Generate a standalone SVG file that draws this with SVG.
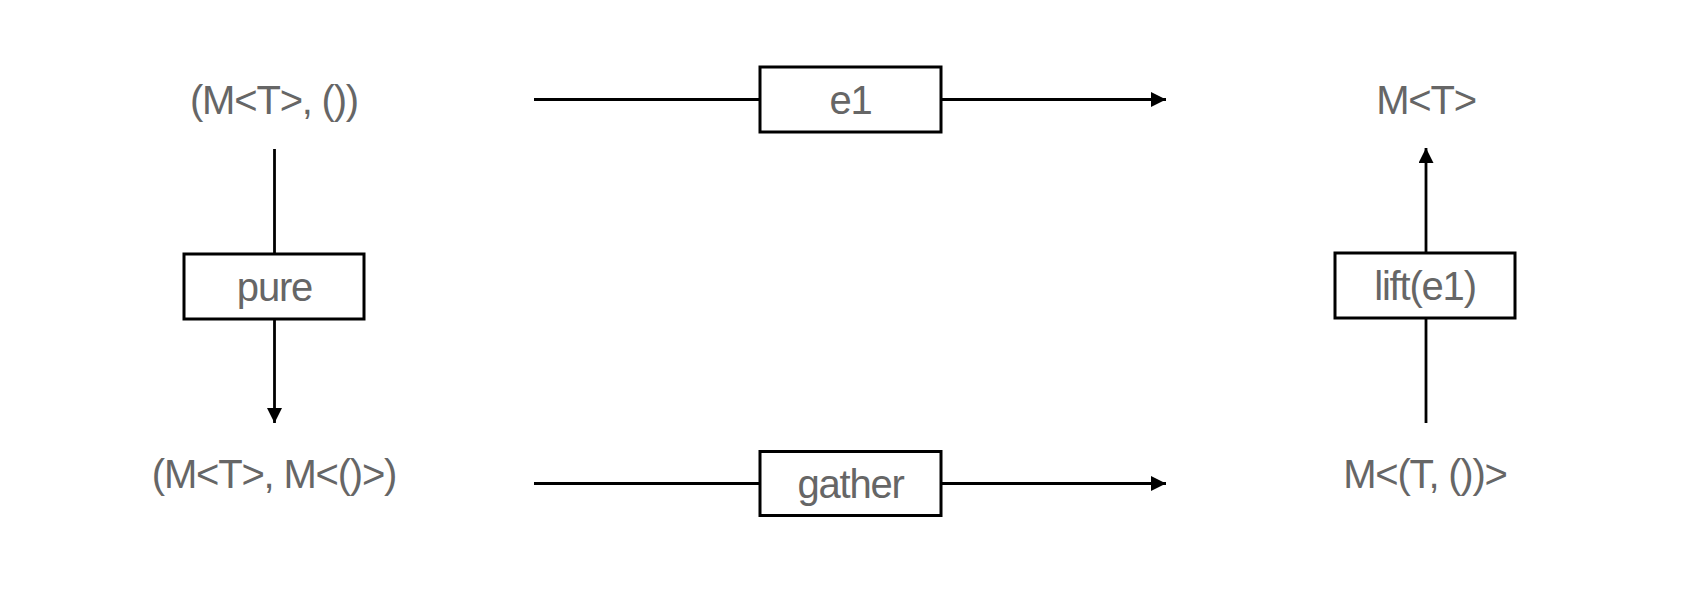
<svg xmlns="http://www.w3.org/2000/svg" width="1700" height="594" viewBox="0 0 1700 594">
  <style>
    .lbl { font-family: "Liberation Sans", Arial, Helvetica, sans-serif; font-size: 40px; fill: #666666; text-anchor: middle; letter-spacing: -1.2px; }
    .box { fill: #ffffff; stroke: #000000; stroke-width: 3; }
    .edge { fill: none; stroke: #000000; stroke-width: 2.8; }
  </style>
  <defs>
    <marker id="arrow" markerUnits="userSpaceOnUse" markerWidth="16" markerHeight="16" refX="15" refY="7.5" orient="auto">
      <path d="M0,0 L15,7.5 L0,15 Z" fill="#000000"/>
    </marker>
  </defs>
  <rect x="0" y="0" width="1700" height="594" fill="#ffffff"/>

  <g id="connectors">
    <line class="edge" x1="534" y1="99.5" x2="760" y2="99.5"/>
    <line class="edge" x1="941" y1="99.5" x2="1166" y2="99.5" marker-end="url(#arrow)"/>
    <line class="edge" x1="534" y1="483.5" x2="760" y2="483.5"/>
    <line class="edge" x1="941" y1="483.5" x2="1166" y2="483.5" marker-end="url(#arrow)"/>
    <line class="edge" x1="274.5" y1="149" x2="274.5" y2="254"/>
    <line class="edge" x1="274.5" y1="319" x2="274.5" y2="423" marker-end="url(#arrow)"/>
    <line class="edge" x1="1426" y1="423" x2="1426" y2="318"/>
    <line class="edge" x1="1426" y1="253" x2="1426" y2="148" marker-end="url(#arrow)"/>
  </g>

  <g id="node-mt-unit">
    <text class="lbl" x="274" y="114">(M&lt;T&gt;, ())</text>
  </g>
  <g id="node-mt">
    <text class="lbl" x="1426" y="114">M&lt;T&gt;</text>
  </g>
  <g id="node-mt-munit">
    <text class="lbl" x="274" y="488">(M&lt;T&gt;, M&lt;()&gt;)</text>
  </g>
  <g id="node-m-tuple">
    <text class="lbl" x="1425" y="488">M&lt;(T, ())&gt;</text>
  </g>

  <g id="node-e1">
    <rect class="box" x="760" y="67" width="181" height="65"/>
    <text class="lbl" x="850.5" y="114">e1</text>
  </g>
  <g id="node-pure">
    <rect class="box" x="184" y="254" width="180" height="65"/>
    <text class="lbl" x="274.5" y="301">pure</text>
  </g>
  <g id="node-lift">
    <rect class="box" x="1335" y="253" width="180" height="65"/>
    <text class="lbl" x="1425" y="300">lift(e1)</text>
  </g>
  <g id="node-gather">
    <rect class="box" x="760" y="451.5" width="181" height="64"/>
    <text class="lbl" x="850.5" y="497.5">gather</text>
  </g>
</svg>
